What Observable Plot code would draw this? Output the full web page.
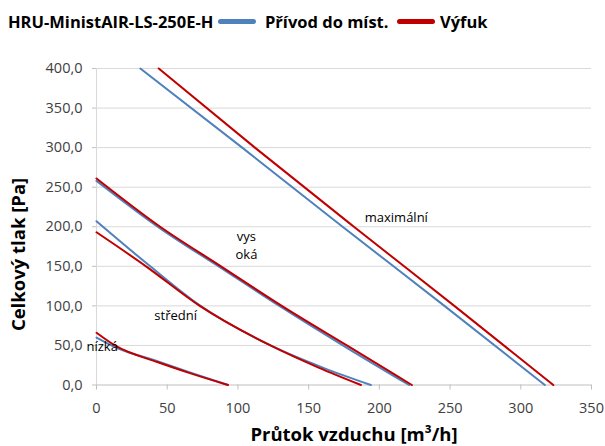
<!DOCTYPE html>
<html><head><meta charset="utf-8">
<script src="https://cdn.jsdelivr.net/npm/d3@7"></script>
<script src="https://cdn.jsdelivr.net/npm/@observablehq/plot@0.6"></script>
<style>
body{margin:0;background:#fff;font-family:"Open Sans",sans-serif;}
#head{position:relative;height:40px;width:605px;font-weight:bold;font-size:16.5px;color:#000;}
#head span{position:absolute;top:10px;white-space:nowrap;}
#head i{position:absolute;top:19px;height:5px;border-radius:3px;}
#chart svg{display:block;}
</style></head><body>
<div id="head"></div>
<div id="chart"></div>
<script>
const chartTitle = "HRU-MinistAIR-LS-250E-H";
const seriesNames = ["Přívod do míst.", "Výfuk"];
const seriesColors = ["#4F81BD", "#C00000"];
const xTicks = [0, 50, 100, 150, 200, 250, 300, 350];
const yTicks = [0, 50, 100, 150, 200, 250, 300, 350, 400];
const xLabel = "Průtok vzduchu [m³/h]";
const yLabel = "Celkový tlak [Pa]";

// Přívod do míst. (supply) curves [flow, pressure]
const supplyLow = [[0,60],[13,48],[43,30],[66,16],[93,0]];
const supplyMid = [[0,207],[38,150],[72,102],[123,50],[160,22],[194,0]];
const supplyHigh = [[0,258],[45,198],[88,148],[131,98],[177,47],[221,0]];
const supplyMax = [[31,400],[103,300],[174,200],[246,100],[317,0]];
// Výfuk (exhaust) curves
const exhaustLow = [[0,66],[13,50],[43,29],[66,15],[93,0]];
const exhaustMid = [[0,193],[35,150],[73,100],[123,50],[157,22],[187,0]];
const exhaustHigh = [[0,261],[45,200],[88,150],[131,100],[177,50],[223,0]];
const exhaustMax = [[44,400],[112,300],[182,200],[253,100],[323,0]];

const levelText = ["nízká", "střední", "vys\noká", "maximální"];
const levelX = [4, 56, 106, 212];
const levelY = [50, 89, 178, 214];

const curves = [
  [seriesNames[0], "low", supplyLow], [seriesNames[0], "mid", supplyMid],
  [seriesNames[0], "high", supplyHigh], [seriesNames[0], "max", supplyMax],
  [seriesNames[1], "low", exhaustLow], [seriesNames[1], "mid", exhaustMid],
  [seriesNames[1], "high", exhaustHigh], [seriesNames[1], "max", exhaustMax]
];
const rows = curves.flatMap(([s, l, pts]) => pts.map(([x, y]) => ({series: s, key: s + l, x, y})));
const labels = levelText.map((t, i) => ({t, x: levelX[i], y: levelY[i]}));

// header legend
const head = document.getElementById("head");
head.innerHTML = `<span style="left:8px">${chartTitle}</span>
<i style="left:218px;width:38px;background:${seriesColors[0]}"></i>
<span style="left:265px">${seriesNames[0]}</span>
<i style="left:397px;width:38px;background:${seriesColors[1]}"></i>
<span style="left:440px">${seriesNames[1]}</span>`;

const fmt = d => d.toFixed(1).replace(".", ",");
const plot = Plot.plot({
  width: 605, height: 406,
  marginTop: 28, marginBottom: 61.5, marginLeft: 96, marginRight: 14,
  style: {fontFamily: "Open Sans, sans-serif", fontSize: "14.5px", color: "#404040", background: "#fff"},
  x: {domain: [0, 350]},
  y: {domain: [0, 400]},
  color: {domain: seriesNames, range: seriesColors},
  marks: [
    Plot.gridY(yTicks.filter(d => d > 0), {stroke: "#d9d9d9", strokeOpacity: 1}),
    Plot.ruleX([0], {stroke: "#d9d9d9"}),
    Plot.axisY({ticks: yTicks, tickFormat: fmt, tickSize: 4, tickPadding: 10, stroke: "#bfbfbf", label: null, fontSize: 14.5}),
    Plot.ruleY([0], {stroke: "#bfbfbf"}),
    Plot.axisX({ticks: xTicks, tickSize: 5, tickPadding: 13, stroke: "#bfbfbf", label: null, fontSize: 14.5}),
    Plot.line(rows, {x: "x", y: "y", z: "key", stroke: "series", strokeWidth: 2, curve: "monotone-x"}),
    Plot.text(labels, {x: "x", y: "y", text: "t", fill: "#000", fontSize: 13, lineHeight: 1.4}),
    Plot.text([xLabel], {frameAnchor: "bottom", dx: 10, dy: 56, fill: "#000", fontSize: 18.5, fontWeight: "bold"}),
    Plot.text([yLabel], {x: () => 0, y: () => 165, dx: -77, rotate: -90, fill: "#000", fontSize: 18.5, fontWeight: "bold"})
  ]
});
document.getElementById("chart").appendChild(plot);
</script>
</body></html>
